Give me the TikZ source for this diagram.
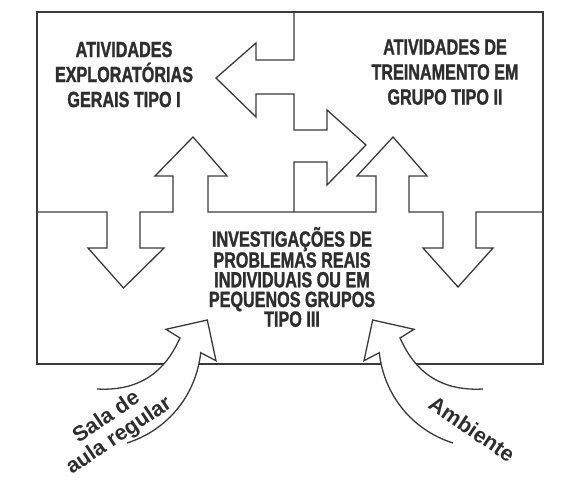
\documentclass[tikz,border=0pt]{standalone}
\usepackage{fontspec}
\newfontfamily\condfont{Liberation Sans Bold}[FakeStretch=0.735,FakeBold=1.3]
\newfontfamily\lsans{Liberation Sans Bold}
\definecolor{ink}{HTML}{3A3A3A}
\definecolor{txt}{HTML}{2E2E2E}
\begin{document}
\begin{tikzpicture}[x=1pt,y=-1pt,
  frame/.style={draw=ink,line width=1.3pt,line join=miter},
  boxlabel/.style={text=txt,align=center,inner sep=0pt,font=\condfont\fontsize{22}{25}\selectfont},
  midlabel/.style={text=txt,align=center,inner sep=0pt,font=\condfont\fontsize{22}{19.7}\selectfont},
  curvelabel/.style={text=txt,align=center,inner sep=0pt,font=\lsans\fontsize{21.5}{22.5}\selectfont}]
\useasboundingbox (0,0) rectangle (587,490);
% outer frame
\draw[frame] (37,12) rectangle (543,364);
% vertical divider with left and right arrows
\draw[frame] (294,12) -- (294,60) -- (256,60) -- (256,43) -- (216,78) -- (256,117) -- (256,94) -- (294,94)
  -- (294,130) -- (327,130) -- (327,110) -- (366,145) -- (327,185) -- (327,162) -- (294,162) -- (294,212);
% horizontal divider with up and down arrows
\draw[frame] (37,212) -- (107,212) -- (107,248) -- (88,248) -- (123.5,288) -- (164,248) -- (140,248) -- (140,212)
  -- (173,212) -- (173,176) -- (155,176) -- (193,137) -- (227,176) -- (208,176) -- (208,212)
  -- (376,212) -- (376,176) -- (357,176) -- (393,137) -- (427,176) -- (409,176) -- (409,212)
  -- (443,212) -- (443,248) -- (423,248) -- (458,287) -- (493,248) -- (476,248) -- (476,212) -- (543,212);
% curved arrow left (white fill hides frame line)
\fill[white] (97,389) .. controls (150,392) and (170,360) .. (180,338) -- (166,329.3) -- (207.3,320) -- (216,360.7)
  -- (200.7,352.7) .. controls (196,395) and (168,430) .. (127,443) -- cycle;
\draw[frame] (97,389) .. controls (150,392) and (170,360) .. (180,338) -- (166,329.3) -- (207.3,320) -- (216,360.7)
  -- (200.7,352.7) .. controls (196,395) and (168,430) .. (127,443);
% curved arrow right
\fill[white] (483,389) .. controls (430,392) and (410,360) .. (400,338) -- (414,329.3) -- (372.7,320) -- (364,360.7)
  -- (379.3,352.7) .. controls (384,395) and (412,430) .. (453,443) -- cycle;
\draw[frame] (483,389) .. controls (430,392) and (410,360) .. (400,338) -- (414,329.3) -- (372.7,320) -- (364,360.7)
  -- (379.3,352.7) .. controls (384,395) and (412,430) .. (453,443);
% labels
\node[boxlabel] (tipo1) at (124,74.5) {ATIVIDADES\\EXPLORATÓRIAS\\GERAIS TIPO I};
\node[boxlabel] (tipo2) at (445,72) {ATIVIDADES DE\\TREINAMENTO EM\\GRUPO TIPO II};
\node[midlabel] (tipo3) at (292,277) {INVESTIGAÇÕES DE\\PROBLEMAS REAIS\\INDIVIDUAIS OU EM\\PEQUENOS GRUPOS\\TIPO III};
\node[curvelabel,rotate=34] (sala) at (113,427) {Sala de\\aula regular};
\node[curvelabel,rotate=-34] (amb) at (472,429) {Ambiente};
\end{tikzpicture}
\end{document}
